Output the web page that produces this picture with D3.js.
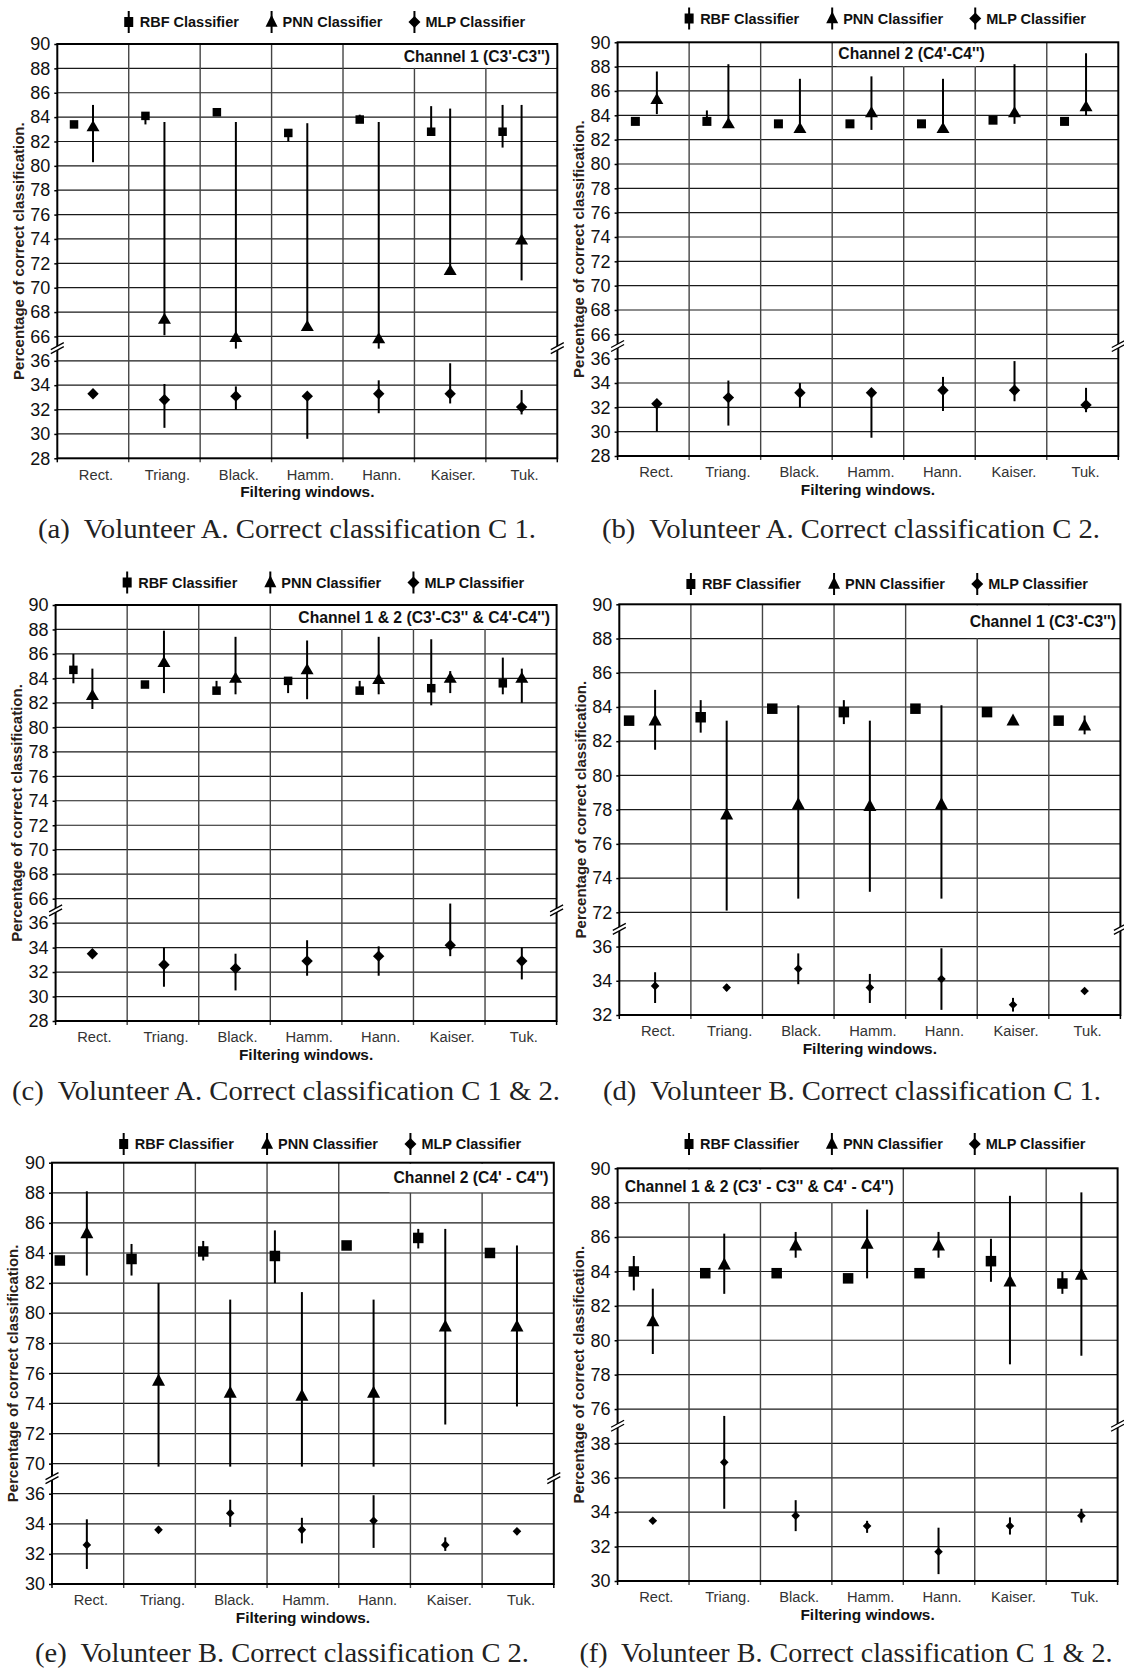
<!DOCTYPE html>
<html>
<head>
<meta charset="utf-8">
<script src="https://cdn.jsdelivr.net/npm/d3@7"></script>
<style>
  body { margin: 0; background: #fff; }
  svg { display: block; font-family: "Liberation Sans", Arial, sans-serif; }
</style>
</head>
<body>
<svg id="chart"></svg>
<script>
// Correct classification (%) per filtering window, three classifiers, six panels

const categories = ["Rect.", "Triang.", "Black.", "Hamm.", "Hann.", "Kaiser.", "Tuk."];

// (a) Volunteer A, channel 1
const aRbf   = [83.4, 84.1, 84.4, 82.7, 83.8, 82.8, 82.8];
const aRbfLo = [83.4, 83.4, 84.4, 82.0, 83.8, 82.8, 81.5];
const aRbfHi = [83.4, 84.3, 84.4, 82.7, 84.2, 84.9, 85.0];
const aPnn   = [83.2, 67.4, 65.9, 66.8, 65.8, 71.4, 73.9];
const aPnnLo = [80.3, 66.1, 65.0, 66.8, 65.0, 71.4, 70.6];
const aPnnHi = [85.0, 83.6, 83.6, 83.5, 83.6, 84.7, 85.0];
const aMlp   = [33.3, 32.8, 33.1, 33.1, 33.3, 33.3, 32.2];
const aMlpLo = [33.3, 30.5, 32.0, 29.6, 31.7, 32.5, 31.6];
const aMlpHi = [33.3, 34.1, 33.9, 33.1, 34.4, 35.8, 33.6];

// (b) Volunteer A, channel 2
const bRbf   = [83.5, 83.5, 83.3, 83.3, 83.3, 83.6, 83.5];
const bRbfLo = [83.5, 83.5, 83.3, 83.3, 83.3, 83.6, 83.5];
const bRbfHi = [83.5, 84.4, 83.3, 83.3, 83.3, 83.6, 83.5];
const bPnn   = [85.3, 83.3, 82.9, 84.2, 82.9, 84.2, 84.7];
const bPnnLo = [84.1, 83.3, 82.9, 82.8, 82.9, 83.3, 84.0];
const bPnnHi = [87.6, 88.2, 87.0, 87.2, 87.0, 88.2, 89.1];
const bMlp   = [32.3, 32.8, 33.2, 33.2, 33.4, 33.4, 32.2];
const bMlpLo = [30.0, 30.5, 32.0, 29.5, 31.7, 32.5, 31.6];
const bMlpHi = [32.3, 34.2, 34.0, 33.2, 34.5, 35.8, 33.6];

// (c) Volunteer A, channels 1 & 2
const cRbf   = [84.7, 83.5, 83.0, 83.8, 83.0, 83.2, 83.6];
const cRbfLo = [83.6, 83.5, 83.0, 82.8, 83.0, 81.8, 82.7];
const cRbfHi = [86.0, 83.5, 83.8, 83.8, 83.8, 87.2, 85.7];
const cPnn   = [82.6, 85.3, 84.0, 84.7, 83.9, 84.0, 84.0];
const cPnnLo = [81.5, 82.8, 82.7, 82.3, 82.7, 82.8, 82.0];
const cPnnHi = [84.8, 87.9, 87.4, 87.1, 87.4, 84.6, 84.8];
const cMlp   = [33.5, 32.6, 32.3, 32.9, 33.3, 34.2, 32.9];
const cMlpLo = [33.5, 30.8, 30.5, 31.7, 31.7, 33.3, 31.4];
const cMlpHi = [33.5, 34.0, 33.5, 34.6, 34.1, 37.6, 34.0];

// (d) Volunteer B, channel 1
const dRbf   = [83.2, 83.4, 83.9, 83.7, 83.9, 83.7, 83.2];
const dRbfLo = [83.2, 82.5, 83.9, 83.0, 83.9, 83.7, 83.2];
const dRbfHi = [83.2, 84.4, 83.9, 84.4, 83.9, 83.7, 83.2];
const dPnn   = [83.2, 77.7, 78.3, 78.2, 78.3, 83.2, 82.9];
const dPnnLo = [81.5, 72.1, 72.8, 73.2, 72.8, 83.2, 82.4];
const dPnnHi = [85.0, 83.2, 84.1, 83.2, 84.1, 83.2, 83.5];
const dMlp   = [33.7, 33.6, 34.7, 33.6, 34.1, 32.6, 33.4];
const dMlpLo = [32.7, 33.4, 33.8, 32.7, 32.3, 32.2, 33.4];
const dMlpHi = [34.5, 33.8, 35.6, 34.4, 35.9, 33.0, 33.4];

// (e) Volunteer B, channel 2
const eRbf   = [83.5, 83.6, 84.1, 83.8, 84.5, 85.0, 84.0];
const eRbfLo = [83.5, 82.5, 83.5, 82.0, 84.5, 84.3, 84.0];
const eRbfHi = [83.5, 84.6, 84.8, 85.5, 84.5, 85.6, 84.0];
const ePnn   = [85.3, 75.5, 74.7, 74.5, 74.7, 79.1, 79.1];
const ePnnLo = [82.5, 69.8, 69.8, 69.8, 69.8, 72.6, 73.8];
const ePnnHi = [88.1, 82.0, 80.9, 81.4, 80.9, 85.6, 84.5];
const eMlp   = [32.6, 33.6, 34.7, 33.6, 34.2, 32.6, 33.5];
const eMlpLo = [31.0, 33.4, 33.8, 32.7, 32.4, 32.2, 33.5];
const eMlpHi = [34.3, 33.8, 35.6, 34.4, 35.9, 33.1, 33.5];

// (f) Volunteer B, channels 1 & 2
const fRbf   = [84.0, 83.9, 83.9, 83.6, 83.9, 84.6, 83.3];
const fRbfLo = [82.9, 83.9, 83.9, 83.6, 83.9, 83.4, 82.7];
const fRbfHi = [84.9, 83.9, 83.9, 83.6, 83.9, 85.9, 84.0];
const fPnn   = [81.1, 84.4, 85.5, 85.6, 85.5, 83.4, 83.8];
const fPnnLo = [79.2, 82.7, 84.8, 83.6, 84.8, 78.6, 79.1];
const fPnnHi = [83.0, 86.2, 86.3, 87.6, 86.3, 88.4, 88.6];
const fMlp   = [33.5, 36.9, 33.8, 33.2, 31.7, 33.2, 33.8];
const fMlpLo = [33.5, 34.2, 32.9, 32.8, 30.4, 32.7, 33.4];
const fMlpHi = [33.5, 39.6, 34.7, 33.5, 33.1, 33.7, 34.2];

// tick labels above / below the axis break
const ticksUpA = [66, 68, 70, 72, 74, 76, 78, 80, 82, 84, 86, 88, 90];
const ticksLoA = [28, 30, 32, 34, 36];
const ticksUpD = [72, 74, 76, 78, 80, 82, 84, 86, 88, 90];
const ticksLoD = [32, 34, 36];
const ticksUpE = [70, 72, 74, 76, 78, 80, 82, 84, 86, 88, 90];
const ticksLoE = [30, 32, 34, 36];
const ticksUpF = [76, 78, 80, 82, 84, 86, 88, 90];
const ticksLoF = [30, 32, 34, 36, 38];

const titles = [
    "Channel 1 (C3'-C3'')",
    "Channel 2 (C4'-C4'')",
    "Channel 1 & 2 (C3'-C3'' & C4'-C4'')",
    "Channel 1 (C3'-C3'')",
    "Channel 2 (C4' - C4'')",
    "Channel 1 & 2 (C3' - C3'' & C4' - C4'')"
];
const captions = [
    "(a)\u00a0 Volunteer A. Correct classification C 1.",
    "(b)\u00a0 Volunteer A. Correct classification C 2.",
    "(c)\u00a0 Volunteer A. Correct classification C 1 & 2.",
    "(d)\u00a0 Volunteer B. Correct classification C 1.",
    "(e)\u00a0 Volunteer B. Correct classification C 2.",
    "(f)\u00a0 Volunteer B. Correct classification C 1 & 2."
];
const legendNames = ["RBF Classifier", "PNN Classifier", "MLP Classifier"];

const width = 1124;
const height = 1670;

const svg = d3.select("#chart")
    .attr("width", width)
    .attr("height", height);

svg.append("rect").attr("width", width).attr("height", height).attr("fill", "#fff");

const panels = [
    { rbf: [aRbf, aRbfLo, aRbfHi], pnn: [aPnn, aPnnLo, aPnnHi], mlp: [aMlp, aMlpLo, aMlpHi],
      up: ticksUpA, lo: ticksLoA, title: titles[0], caption: captions[0],
      left: 57.3, right: 557.3, top: 44, bottom: 458.3, rbfDx: -19, pnnDx: 0,
      sq: 8.5, triW: 13, triH: 11, dia: 5.7,
      titleAnchor: "end", titleX: 550, titleY: 57, boxX0: 399, boxX1: 557.3,
      legendY: 22, capX: 287, capY: 538, capW: 498 },
    { rbf: [bRbf, bRbfLo, bRbfHi], pnn: [bPnn, bPnnLo, bPnnHi], mlp: [bMlp, bMlpLo, bMlpHi],
      up: ticksUpA, lo: ticksLoA, title: titles[1], caption: captions[1],
      left: 617.6, right: 1118.3, top: 42.3, bottom: 456, rbfDx: -18, pnnDx: 3.5,
      sq: 9, triW: 13, triH: 11, dia: 5.7,
      titleAnchor: "middle", titleX: 911.5, titleY: 54, boxX0: 835, boxX1: 977,
      legendY: 18.5, capX: 851, capY: 538, capW: 498 },
    { rbf: [cRbf, cRbfLo, cRbfHi], pnn: [cPnn, cPnnLo, cPnnHi], mlp: [cMlp, cMlpLo, cMlpHi],
      up: ticksUpA, lo: ticksLoA, title: titles[2], caption: captions[2],
      left: 55.6, right: 556.6, top: 605, bottom: 1021, rbfDx: -18, pnnDx: 1,
      sq: 8.5, triW: 13, triH: 11, dia: 5.7,
      titleAnchor: "end", titleX: 550, titleY: 617.5, boxX0: 271, boxX1: 556.6,
      legendY: 582.5, capX: 286, capY: 1100, capW: 548 },
    { rbf: [dRbf, dRbfLo, dRbfHi], pnn: [dPnn, dPnnLo, dPnnHi], mlp: [dMlp, dMlpLo, dMlpHi],
      up: ticksUpD, lo: ticksLoD, title: titles[3], caption: captions[3],
      left: 619.3, right: 1120.4, top: 604.3, bottom: 1015, rbfDx: -26, pnnDx: 0,
      sq: 10.5, triW: 13, triH: 12, dia: 4.3,
      titleAnchor: "end", titleX: 1116, titleY: 621.5, boxX0: 965, boxX1: 1120.4,
      legendY: 584, capX: 852, capY: 1100, capW: 498 },
    { rbf: [eRbf, eRbfLo, eRbfHi], pnn: [ePnn, ePnnLo, ePnnHi], mlp: [eMlp, eMlpLo, eMlpHi],
      up: ticksUpE, lo: ticksLoE, title: titles[4], caption: captions[4],
      left: 52, right: 553.8, top: 1162.7, bottom: 1584, rbfDx: -28, pnnDx: -1,
      sq: 10.5, triW: 13, triH: 12, dia: 4.3,
      titleAnchor: "end", titleX: 548.5, titleY: 1177.5, boxX0: 388, boxX1: 553.8,
      legendY: 1144, capX: 282, capY: 1662, capW: 494 },
    { rbf: [fRbf, fRbfLo, fRbfHi], pnn: [fPnn, fPnnLo, fPnnHi], mlp: [fMlp, fMlpLo, fMlpHi],
      up: ticksUpF, lo: ticksLoF, title: titles[5], caption: captions[5],
      left: 617.6, right: 1117.6, top: 1168.3, bottom: 1581, rbfDx: -19.5, pnnDx: -0.5,
      sq: 10.5, triW: 13, triH: 12, dia: 4.3,
      titleAnchor: "start", titleX: 624.7, titleY: 1186.5, boxX0: 617.6, boxX1: 902,
      legendY: 1144, capX: 846, capY: 1662, capW: 533 }
];

const triPath = (w, h) => `M0,${-h * 0.6}L${w / 2},${h * 0.4}L${-w / 2},${h * 0.4}Z`;
const diaPath = s => `M0,${-s}L${s},0L0,${s}L${-s},0Z`;

panels.forEach(drawPanel);

function drawPanel(p) {
    const g = svg.append("g");

    // the y axis is one even ladder of steps with one empty step at the break
    const nUp = p.up.length - 1;
    const nLo = p.lo.length - 1;
    const step = (p.bottom - p.top) / (nUp + 1 + nLo);
    const yUpMin = p.top + nUp * step;
    const yLoMax = yUpMin + step;

    const yU = d3.scaleLinear().domain([p.up[0], p.up[nUp]]).range([yUpMin, p.top]);
    const yL = d3.scaleLinear().domain([p.lo[0], p.lo[nLo]]).range([p.bottom, yLoMax]);
    const x = d3.scaleBand().domain(categories).range([p.left, p.right]);
    const cx = d => x(d) + x.bandwidth() / 2;

    // horizontal grid
    const hLines = p.up.slice(0, -1).map(v => yU(v)).concat(p.lo.slice(1).map(v => yL(v)));
    g.selectAll(".hgrid")
        .data(hLines)
        .enter().append("line")
        .attr("x1", p.left).attr("x2", p.right)
        .attr("y1", d => d).attr("y2", d => d)
        .attr("stroke", "#1a1a1a")
        .attr("stroke-width", 1.2);

    // vertical separators between windows (they also make the x ticks)
    g.selectAll(".vgrid")
        .data(categories.slice(1))
        .enter().append("line")
        .attr("x1", d => x(d)).attr("x2", d => x(d))
        .attr("y1", p.top).attr("y2", p.bottom + 4)
        .attr("stroke", "#444")
        .attr("stroke-width", 1.4);

    // white patch under the panel title
    g.append("rect")
        .attr("x", p.boxX0 + 1.5)
        .attr("y", p.top + 1)
        .attr("width", p.boxX1 - p.boxX0 - 2.5)
        .attr("height", yU(p.up[nUp - 1]) - p.top - 1.5)
        .attr("fill", "#fff");

    g.append("text")
        .attr("x", p.titleX)
        .attr("y", p.titleY)
        .attr("dy", "0.35em")
        .attr("text-anchor", p.titleAnchor)
        .attr("font-size", 15.7)
        .attr("font-weight", "bold")
        .attr("fill", "#111")
        .text(p.title);

    // frame
    g.append("rect")
        .attr("x", p.left).attr("y", p.top)
        .attr("width", p.right - p.left).attr("height", p.bottom - p.top)
        .attr("fill", "none")
        .attr("stroke", "#000")
        .attr("stroke-width", 2);

    g.selectAll(".xtick")
        .data([p.left, p.right])
        .enter().append("line")
        .attr("x1", d => d).attr("x2", d => d)
        .attr("y1", p.bottom).attr("y2", p.bottom + 4)
        .attr("stroke", "#000")
        .attr("stroke-width", 1.5);

    // axis break marks on both sides
    const yMid = (yUpMin + yLoMax) / 2;
    [p.left, p.right].forEach(x0 => {
        g.append("path")
            .attr("d", `M${x0 - 6.5},${yMid + 1}L${x0 + 6.5},${yMid - 6}L${x0 + 6.5},${yMid - 2}L${x0 - 6.5},${yMid + 5}Z`)
            .attr("fill", "#fff");
        g.append("path")
            .attr("d", `M${x0 - 6.5},${yMid + 1}L${x0 + 6.5},${yMid - 6}M${x0 - 6.5},${yMid + 5}L${x0 + 6.5},${yMid - 2}`)
            .attr("stroke", "#000")
            .attr("stroke-width", 1.3)
            .attr("fill", "none");
    });

    // y axes (upper and lower part)
    [[yU, p.up], [yL, p.lo]].forEach(([scale, ticks]) => {
        g.append("g")
            .attr("transform", `translate(${p.left},0)`)
            .call(d3.axisLeft(scale).tickValues(ticks).tickFormat(d3.format("d")).tickSize(3).tickPadding(4))
            .call(a => a.select(".domain").remove())
            .call(a => a.selectAll("line").attr("stroke", "#000").attr("stroke-width", 1.5))
            .call(a => a.selectAll("text").attr("fill", "#111"))
            .attr("font-family", "'Liberation Sans', Arial, sans-serif")
            .attr("font-size", 18);
    });

    // x axis labels
    g.append("g")
        .attr("transform", `translate(0,${p.bottom})`)
        .call(d3.axisBottom(x).tickSize(0).tickPadding(11))
        .call(a => a.select(".domain").remove())
        .call(a => a.selectAll("text").attr("fill", "#333").attr("dx", 3))
        .attr("font-family", "'Liberation Sans', Arial, sans-serif")
        .attr("font-size", 14.7);

    g.append("text")
        .attr("x", (p.left + p.right) / 2)
        .attr("y", p.bottom + 38.5)
        .attr("text-anchor", "middle")
        .attr("font-size", 15.4)
        .attr("font-weight", "bold")
        .attr("fill", "#111")
        .text("Filtering windows.");

    g.append("text")
        .attr("transform", `translate(${p.left - 39},${(p.top + p.bottom) / 2}) rotate(-90)`)
        .attr("dy", "0.35em")
        .attr("text-anchor", "middle")
        .attr("font-size", 15)
        .attr("font-weight", "bold")
        .attr("fill", "#2a2018")
        .text("Percentage of correct classification.");

    // series: error bar plus marker
    const series = [
        { vals: p.rbf, y: yU, dx: p.rbfDx, shape: "sq" },
        { vals: p.pnn, y: yU, dx: p.pnnDx, shape: "tri" },
        { vals: p.mlp, y: yL, dx: p.pnnDx, shape: "dia" }
    ];

    series.forEach(s => {
        const [mid, lo, hi] = s.vals;
        const rows = categories.map((c, i) => ({ c, v: mid[i], lo: lo[i], hi: hi[i] }));

        g.selectAll(null)
            .data(rows.filter(d => d.hi - d.lo > 0))
            .enter().append("line")
            .attr("x1", d => cx(d.c) + s.dx).attr("x2", d => cx(d.c) + s.dx)
            .attr("y1", d => s.y(d.lo)).attr("y2", d => s.y(d.hi))
            .attr("stroke", "#000")
            .attr("stroke-width", 2);

        const marks = g.selectAll(null)
            .data(rows)
            .enter();

        if (s.shape === "sq") {
            marks.append("rect")
                .attr("x", d => cx(d.c) + s.dx - p.sq / 2)
                .attr("y", d => s.y(d.v) - p.sq / 2)
                .attr("width", p.sq).attr("height", p.sq)
                .attr("fill", "#000");
        } else {
            marks.append("path")
                .attr("transform", d => `translate(${cx(d.c) + s.dx},${s.y(d.v)})`)
                .attr("d", s.shape === "tri" ? triPath(p.triW, p.triH) : diaPath(p.dia))
                .attr("fill", "#000");
        }
    });

    // legend
    const legend = g.selectAll(".legend")
        .data(legendNames)
        .enter().append("g")
        .attr("transform", (d, i) => `translate(${p.left + x.step() * (1 + 2 * i)},${p.legendY})`);

    legend.append("line")
        .attr("y1", -11).attr("y2", 11)
        .attr("stroke", "#000")
        .attr("stroke-width", 2);

    legend.each(function(d, i) {
        const el = d3.select(this);
        if (i === 0) {
            el.append("rect").attr("x", -4.5).attr("y", -5).attr("width", 9).attr("height", 10).attr("fill", "#000");
        } else if (i === 1) {
            el.append("path").attr("d", triPath(12, 12)).attr("fill", "#000");
        } else {
            el.append("path").attr("d", diaPath(6)).attr("fill", "#000");
        }
    });

    legend.append("text")
        .attr("x", 11)
        .attr("dy", "0.35em")
        .attr("font-size", 14.5)
        .attr("font-weight", "bold")
        .attr("fill", "#111")
        .text(d => d);

    svg.append("text")
        .attr("x", p.capX)
        .attr("y", p.capY)
        .attr("text-anchor", "middle")
        .attr("font-family", "'Liberation Serif', 'DejaVu Serif', serif")
        .attr("font-size", 27)
        .attr("fill", "#222")
        .attr("textLength", p.capW)
        .attr("lengthAdjust", "spacingAndGlyphs")
        .text(p.caption);
}
</script>
</body>
</html>
